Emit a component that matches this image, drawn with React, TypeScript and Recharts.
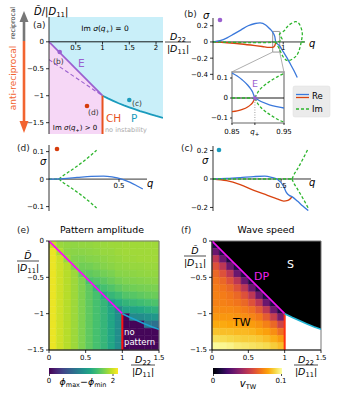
import React from 'react'
import { ComposedChart, XAxis, YAxis, Line, Area, Scatter, ReferenceLine, ReferenceArea } from 'recharts'

const FONT = "'DejaVu Sans', sans-serif"
const BLUE = '#3a78db'
const RED = '#d9430f'
const GREEN = '#2db52d'
const PURPLE = '#9a60cf'
const TEAL = '#1a9bbd'
const CH = '#e8521f'

// ---------- (a) phase diagram ----------
const aTop = 0.46
const aBottom = -1.71
const eLine = [{ x: 0, y: 0 }, { x: 1, y: -1 }]
const eDashed = [{ x: 0, y: -0.33 }, { x: 1, y: -1 }]
const pLine = [
  { x: 1, y: -1 }, { x: 1.1, y: -1.05 }, { x: 1.2, y: -1.095 }, { x: 1.3, y: -1.14 },
  { x: 1.4, y: -1.18 }, { x: 1.5, y: -1.215 }, { x: 1.6, y: -1.25 }, { x: 1.7, y: -1.285 },
  { x: 1.8, y: -1.315 }, { x: 1.9, y: -1.345 }, { x: 2.0, y: -1.375 }, { x: 2.13, y: -1.41 },
]
const paramPts = [
  { x: 0.2, y: -0.19, color: PURPLE },
  { x: 0.71, y: -1.19, color: '#d63c0c' },
  { x: 1.5, y: -1.08, color: TEAL },
]

// ---------- (b) dispersion at point (b) ----------
const reB1 = [
  { x: 0, y: 0 }, { x: 0.1, y: 0.015 }, { x: 0.2, y: 0.05 }, { x: 0.3, y: 0.1 }, { x: 0.4, y: 0.15 },
  { x: 0.5, y: 0.2 }, { x: 0.6, y: 0.228 }, { x: 0.67, y: 0.235 }, { x: 0.75, y: 0.21 }, { x: 0.8, y: 0.17 },
  { x: 0.85, y: 0.12 }, { x: 0.88, y: 0.065 }, { x: 0.894, y: 0 }, { x: 0.95, y: -0.05 }, { x: 1.0, y: -0.12 },
  { x: 1.05, y: -0.19 }, { x: 1.1, y: -0.27 }, { x: 1.15, y: -0.35 }, { x: 1.2, y: -0.44 },
]
const reB2 = [
  { x: 0, y: 0 }, { x: 0.2, y: -0.01 }, { x: 0.4, y: -0.025 }, { x: 0.6, y: -0.045 }, { x: 0.7, y: -0.056 },
  { x: 0.8, y: -0.068 }, { x: 0.85, y: -0.066 }, { x: 0.88, y: -0.045 }, { x: 0.894, y: 0 },
]
const imB = [
  { x: 0, y: 0 }, { x: 0.894, y: 0 }, { x: 0.95, y: 0.08 }, { x: 1.0, y: 0.13 }, { x: 1.05, y: 0.18 },
  { x: 1.1, y: 0.22 }, { x: 1.17, y: 0.25 }, { x: 1.23, y: 0.22 }, { x: 1.27, y: 0.12 }, { x: 1.26, y: 0.02 },
  { x: 1.22, y: -0.12 }, { x: 1.15, y: -0.2 }, { x: 1.06, y: -0.23 }, { x: 0.99, y: -0.17 }, { x: 0.94, y: -0.08 },
  { x: 0.894, y: 0 },
]
const imBTail = [{ x: 1.26, y: 0 }, { x: 1.31, y: 0 }]

// inset of (b)
const reIn1 = [
  { x: 0.85, y: 0.125 }, { x: 0.86, y: 0.11 }, { x: 0.87, y: 0.09 }, { x: 0.88, y: 0.065 },
  { x: 0.886, y: 0.045 }, { x: 0.89, y: 0.028 }, { x: 0.894, y: 0 }, { x: 0.95, y: -0.05 },
]
const reIn2 = [
  { x: 0.85, y: -0.068 }, { x: 0.86, y: -0.064 }, { x: 0.87, y: -0.057 }, { x: 0.88, y: -0.045 },
  { x: 0.886, y: -0.033 }, { x: 0.89, y: -0.022 }, { x: 0.894, y: 0 },
]
const imInZero = [{ x: 0.85, y: 0 }, { x: 0.894, y: 0 }]
const imInUp = [
  { x: 0.894, y: 0 }, { x: 0.9, y: 0.03 }, { x: 0.91, y: 0.058 }, { x: 0.92, y: 0.078 },
  { x: 0.93, y: 0.095 }, { x: 0.94, y: 0.11 }, { x: 0.95, y: 0.123 },
]
const imInLow = [
  { x: 0.894, y: 0 }, { x: 0.9, y: -0.03 }, { x: 0.91, y: -0.058 }, { x: 0.92, y: -0.078 },
  { x: 0.93, y: -0.095 }, { x: 0.94, y: -0.11 }, { x: 0.95, y: -0.12 },
]
const qPlus = 0.894

// ---------- (c) ----------
const reC1 = [
  { x: 0, y: 0 }, { x: 0.1, y: 0.004 }, { x: 0.2, y: 0.01 }, { x: 0.3, y: 0.017 }, { x: 0.38, y: 0.02 },
  { x: 0.43, y: 0.012 }, { x: 0.47, y: 0 }, { x: 0.52, y: -0.054 }, { x: 0.54, y: -0.096 },
  { x: 0.56, y: -0.115 }, { x: 0.58, y: -0.124 }, { x: 0.62, y: -0.155 }, { x: 0.66, y: -0.19 }, { x: 0.7, y: -0.222 },
]
const reC2 = [
  { x: 0, y: 0 }, { x: 0.1, y: -0.012 }, { x: 0.2, y: -0.04 }, { x: 0.3, y: -0.08 }, { x: 0.4, y: -0.115 },
  { x: 0.47, y: -0.14 }, { x: 0.52, y: -0.155 }, { x: 0.55, y: -0.15 }, { x: 0.57, y: -0.137 }, { x: 0.58, y: -0.124 },
]
const imCZero = [{ x: 0, y: 0 }, { x: 0.58, y: 0 }]
const imCUp = [{ x: 0.58, y: 0 }, { x: 0.6, y: 0.04 }, { x: 0.62, y: 0.07 }, { x: 0.66, y: 0.14 }, { x: 0.7, y: 0.215 }]
const imCLow = [{ x: 0.58, y: 0 }, { x: 0.6, y: -0.04 }, { x: 0.62, y: -0.07 }, { x: 0.66, y: -0.135 }, { x: 0.7, y: -0.205 }]

// ---------- (d) ----------
const reD = [
  { x: 0, y: 0 }, { x: 0.1, y: 0.002 }, { x: 0.2, y: 0.006 }, { x: 0.3, y: 0.01 }, { x: 0.39, y: 0.011 },
  { x: 0.45, y: 0.008 }, { x: 0.52, y: 0 }, { x: 0.58, y: -0.012 }, { x: 0.63, y: -0.025 }, { x: 0.67, y: -0.036 },
]
const imDZero = [{ x: 0, y: 0 }, { x: 0.07, y: 0 }]
const imDUp = [
  { x: 0.07, y: 0 }, { x: 0.1, y: 0.012 }, { x: 0.15, y: 0.029 }, { x: 0.2, y: 0.047 },
  { x: 0.25, y: 0.066 }, { x: 0.3, y: 0.087 }, { x: 0.34, y: 0.105 },
]
const imDLow = [
  { x: 0.07, y: 0 }, { x: 0.1, y: -0.012 }, { x: 0.15, y: -0.029 }, { x: 0.2, y: -0.047 },
  { x: 0.25, y: -0.066 }, { x: 0.3, y: -0.087 }, { x: 0.34, y: -0.105 },
]

// ---------- (e), (f) heatmaps ----------
const gridX = [0.05, 0.15, 0.25, 0.35, 0.45, 0.55, 0.65, 0.75, 0.85, 0.95, 1.05, 1.15, 1.25, 1.35, 1.45]
const gridY = [-0.05, -0.15, -0.25, -0.35, -0.45, -0.55, -0.65, -0.75, -0.85, -0.95, -1.05, -1.15, -1.25, -1.35, -1.45]
const ampRows = [
  [1.98, 1.83, 1.81, 1.8, 1.81, 1.81, 1.82, 1.83, 1.84, 1.84, 1.85, 1.85, 1.85, 1.85, 1.85],
  [2.1, 1.9, 1.79, 1.78, 1.78, 1.79, 1.8, 1.82, 1.82, 1.84, 1.85, 1.85, 1.85, 1.85, 1.85],
  [2.1, 2.0, 1.82, 1.75, 1.74, 1.76, 1.77, 1.79, 1.81, 1.82, 1.84, 1.84, 1.85, 1.85, 1.85],
  [2.1, 2.0, 1.92, 1.75, 1.69, 1.7, 1.73, 1.76, 1.78, 1.8, 1.81, 1.82, 1.82, 1.83, 1.83],
  [2.1, 2.0, 1.92, 1.84, 1.65, 1.63, 1.66, 1.7, 1.73, 1.77, 1.78, 1.79, 1.8, 1.81, 1.81],
  [2.1, 2.0, 1.92, 1.84, 1.74, 1.54, 1.57, 1.61, 1.66, 1.71, 1.74, 1.75, 1.76, 1.77, 1.78],
  [2.1, 2.0, 1.92, 1.84, 1.74, 1.62, 1.44, 1.51, 1.56, 1.62, 1.67, 1.69, 1.71, 1.72, 1.73],
  [2.1, 2.0, 1.92, 1.84, 1.74, 1.62, 1.52, 1.35, 1.43, 1.49, 1.57, 1.59, 1.62, 1.65, 1.67],
  [2.1, 2.0, 1.92, 1.84, 1.74, 1.62, 1.52, 1.42, 1.22, 1.33, 1.41, 1.45, 1.48, 1.52, 1.55],
  [2.1, 2.0, 1.92, 1.84, 1.74, 1.62, 1.52, 1.42, 1.28, 1.0, 1.23, 1.25, 1.29, 1.34, 1.38],
  [2.1, 2.0, 1.92, 1.84, 1.74, 1.62, 1.52, 1.42, 1.28, 1.05, 0.03, 1.02, 1.04, 1.09, 1.14],
  [2.1, 2.0, 1.92, 1.84, 1.74, 1.62, 1.52, 1.42, 1.28, 1.05, 0.03, 0.03, 0.03, 0.88, 0.8],
  [2.1, 2.0, 1.92, 1.84, 1.74, 1.62, 1.52, 1.42, 1.28, 1.05, 0.03, 0.03, 0.03, 0.03, 0.03],
  [2.1, 2.0, 1.92, 1.84, 1.74, 1.62, 1.52, 1.42, 1.28, 1.05, 0.03, 0.03, 0.03, 0.03, 0.03],
  [2.1, 2.0, 1.92, 1.84, 1.74, 1.62, 1.52, 1.42, 1.28, 1.05, 0.03, 0.03, 0.03, 0.03, 0.03],
]
const _ = null
const speedRows = [
  [0.012, _, _, _, _, _, _, _, _, _],
  [0.03, 0.012, _, _, _, _, _, _, _, _],
  [0.05, 0.03, 0.012, _, _, _, _, _, _, _],
  [0.06, 0.05, 0.03, 0.012, _, _, _, _, _, _],
  [0.066, 0.06, 0.05, 0.03, 0.012, _, _, _, _, _],
  [0.069, 0.066, 0.06, 0.05, 0.03, 0.012, _, _, _, _],
  [0.071, 0.069, 0.066, 0.06, 0.05, 0.03, 0.012, _, _, _],
  [0.072, 0.071, 0.069, 0.066, 0.06, 0.05, 0.03, 0.012, _, _],
  [0.072, 0.072, 0.071, 0.069, 0.066, 0.06, 0.05, 0.03, 0.012, _],
  [0.074, 0.074, 0.074, 0.073, 0.071, 0.068, 0.062, 0.051, 0.031, 0.013],
  [0.077, 0.077, 0.077, 0.076, 0.075, 0.073, 0.07, 0.063, 0.053, 0.033],
  [0.081, 0.081, 0.08, 0.08, 0.079, 0.078, 0.076, 0.072, 0.066, 0.055],
  [0.086, 0.085, 0.085, 0.084, 0.084, 0.083, 0.081, 0.079, 0.075, 0.068],
  [0.092, 0.091, 0.09, 0.089, 0.088, 0.088, 0.087, 0.085, 0.082, 0.078],
  [0.099, 0.098, 0.097, 0.095, 0.094, 0.093, 0.092, 0.091, 0.088, 0.085],
]
const ampMax = 2.16
const speedMax = 0.1

const VIRIDIS = ['#440154', '#482475', '#414487', '#355f8d', '#2a788e', '#21918c', '#22a884', '#44bf70', '#7ad151', '#bddf26', '#fde725']
const INFERNO = ['#000004', '#160b39', '#420a68', '#6a176e', '#932667', '#bc3754', '#dd513a', '#f37819', '#fca50a', '#f6d746', '#fcffa4']

function cmap(stops: string[], t: number) {
  const u = Math.max(0, Math.min(1, t)) * (stops.length - 1)
  const i = Math.min(stops.length - 2, Math.floor(u))
  const f = u - i
  const a = parseInt(stops[i].slice(1), 16)
  const b = parseInt(stops[i + 1].slice(1), 16)
  const ch = (s: number) => Math.round(((a >> s) & 255) * (1 - f) + ((b >> s) & 255) * f)
  return `rgb(${ch(16)},${ch(8)},${ch(0)})`
}

const fmt = (v: number) => String(v).replace('-', '\u2212')
const tickStyle = { fontSize: 7, fill: '#000', fontFamily: FONT }
const axLine = { stroke: '#000', strokeWidth: 0.8 }

const line = (data: any[], color: string, key: string, extra: any = {}) => (
  <Line key={key} data={data} dataKey="y" stroke={color} strokeWidth={1.3} dot={false}
    isAnimationActive={false} type="linear" {...extra} />
)

const zeroTicks = (ticks: number[], len: number, labels: string[]) =>
  ticks.map((t, i) => (
    <ReferenceLine key={'zt' + t} segment={[{ x: t, y: 0 }, { x: t, y: -len }]} stroke="#000" strokeWidth={0.8}
      label={{ value: labels[i], position: 'bottom', offset: 1, fontSize: 7, fill: '#000', fontFamily: FONT }} />
  ))

const heatCells = (rows: (number | null)[][], stops: string[], vmax: number, prefix: string) =>
  rows.flatMap((row, j) =>
    row.map((v, i) => {
      if (v == null) return null
      const c = cmap(stops, v / vmax)
      return (
        <ReferenceArea key={prefix + i + '-' + j} x1={gridX[i] - 0.05} x2={gridX[i] + 0.05}
          y1={gridY[j] - 0.05} y2={gridY[j] + 0.05} fill={c} fillOpacity={1} stroke={c}
          strokeWidth={0.5} ifOverflow="visible" />
      )
    })
  )

const dotShape = (p: any) => <circle cx={p.cx} cy={p.cy} r={2.3} fill={p.payload.color} />
const starShape = (p: any) => {
  const pts = []
  for (let k = 0; k < 10; k++) {
    const r = k % 2 ? 1.4 : 3.4
    const a = -Math.PI / 2 + (k * Math.PI) / 5
    pts.push(`${p.cx + r * Math.cos(a)},${p.cy + r * Math.sin(a)}`)
  }
  return <polygon points={pts.join(' ')} fill={PURPLE} />
}

function Pos({ left, top, children }: any) {
  return <div style={{ position: 'absolute', left, top }}>{children}</div>
}

function PanelA() {
  const cyan = eLine.concat(pLine.slice(1)).map((p) => ({ x: p.x, y: [p.y, aTop] }))
  const pink = eLine.map((p) => ({ x: p.x, y: [aBottom, p.y] }))
  return (
    <ComposedChart width={175} height={145} margin={{ top: 17, right: 12, bottom: 11, left: 0 }}>
      <XAxis dataKey="x" type="number" domain={[0, 2.13]} hide allowDataOverflow />
      <YAxis type="number" domain={[aBottom, aTop]} ticks={[0, -0.5, -1, -1.5]} width={49} tick={tickStyle}
        tickFormatter={fmt} tickSize={3} axisLine={axLine} tickLine={axLine} interval={0} allowDataOverflow />
      <Area data={cyan} dataKey="y" type="linear" stroke="none" fill="#c9eff9" fillOpacity={1} isAnimationActive={false} />
      <Area data={pink} dataKey="y" type="linear" stroke="none" fill="#f6d7f6" fillOpacity={1} isAnimationActive={false} />
      <ReferenceLine y={0} stroke="#000" strokeWidth={0.9} />
      {zeroTicks([0.5, 1, 1.5, 2], 0.05, ['0.5', '1', '1.5', '2'])}
      {line(eDashed, PURPLE, 'ed', { strokeDasharray: '4 2.5', strokeWidth: 1.1 })}
      {line(eLine, PURPLE, 'e', { strokeWidth: 1.8 })}
      {line(pLine, TEAL, 'p', { strokeWidth: 1.8 })}
      {line([{ x: 1, y: -1 }, { x: 1, y: aBottom }], CH, 'ch', { strokeWidth: 2 })}
      <Scatter data={paramPts} dataKey="y" shape={dotShape} isAnimationActive={false} />
    </ComposedChart>
  )
}

function PanelB() {
  return (
    <ComposedChart width={150} height={80} margin={{ top: 8, right: 10, bottom: 10, left: 0 }}>
      <XAxis dataKey="x" type="number" domain={[0, 1.31]} hide allowDataOverflow />
      <YAxis type="number" domain={[-0.47, 0.296]} ticks={[0.2, 0, -0.2, -0.4]} width={48} tick={tickStyle}
        tickFormatter={fmt} tickSize={3} axisLine={axLine} tickLine={axLine} interval={0} allowDataOverflow />
      <ReferenceLine y={0} stroke="#000" strokeWidth={0.8} />
      {zeroTicks([1], 0.03, ['1'])}
      {line(reB2, RED, 'r2', { type: 'monotone' })}
      {line(reB1, BLUE, 'r1', { type: 'monotone' })}
      {line(imB, GREEN, 'im', { strokeDasharray: '3 2', type: 'natural' })}
      {line(imBTail, GREEN, 'imt', { strokeDasharray: '3 2' })}
      <ReferenceArea x1={0.85} x2={0.95} y1={-0.125} y2={0.13} fill="none" stroke="#999" strokeWidth={1} ifOverflow="visible" />
      <ReferenceLine segment={[{ x: 0.85, y: -0.125 }, { x: 0.27, y: -0.37 }]} stroke="#999" strokeWidth={0.8} ifOverflow="visible" />
      <ReferenceLine segment={[{ x: 0.95, y: -0.125 }, { x: 1.01, y: -0.37 }]} stroke="#999" strokeWidth={0.8} ifOverflow="visible" />
    </ComposedChart>
  )
}

function InsetB() {
  const qTick = (p: any) => {
    const v = p.payload.value
    const lbl = v === qPlus ? null : String(v)
    return (
      <text x={p.x} y={p.y + 7} textAnchor="middle" fontSize={7} fontFamily={FONT}>
        {lbl ?? (<><tspan fontStyle="italic">q</tspan><tspan fontSize={5.5} dy={2}>+</tspan></>)}
      </text>
    )
  }
  return (
    <ComposedChart width={94} height={72} margin={{ top: 2, right: 10, bottom: 0, left: 0 }}>
      <XAxis dataKey="x" type="number" domain={[0.85, 0.95]} ticks={[0.85, qPlus, 0.95]} height={19} tick={qTick}
        tickSize={2} axisLine={false} tickLine={axLine} interval={0} allowDataOverflow />
      <YAxis type="number" domain={[-0.125, 0.13]} ticks={[0.1, 0, -0.1]} width={32} tick={tickStyle}
        tickFormatter={fmt} tickSize={2} axisLine={false} tickLine={axLine} interval={0} allowDataOverflow />
      <ReferenceLine y={0} stroke="#000" strokeWidth={0.9} />
      <ReferenceLine segment={[{ x: qPlus, y: -0.125 }, { x: qPlus, y: 0 }]} stroke="#777" strokeWidth={0.7} strokeDasharray="1 1.5" />
      {line(reIn2, RED, 'r2', { type: 'monotone' })}
      {line(reIn1, BLUE, 'r1', { type: 'monotone' })}
      {line(imInZero, GREEN, 'iz', { strokeDasharray: '3 2' })}
      {line(imInUp, GREEN, 'iu', { strokeDasharray: '3 2', type: 'monotone' })}
      {line(imInLow, GREEN, 'il', { strokeDasharray: '3 2', type: 'monotone' })}
      <Scatter data={[{ x: qPlus, y: 0 }]} dataKey="y" shape={starShape} isAnimationActive={false} />
      <ReferenceArea x1={0.85} x2={0.95} y1={-0.125} y2={0.13} fill="none" stroke="#999" strokeWidth={1.6} ifOverflow="visible" />
    </ComposedChart>
  )
}

function PanelC() {
  return (
    <ComposedChart width={150} height={75} margin={{ top: 6, right: 4, bottom: 4, left: 0 }}>
      <XAxis dataKey="x" type="number" domain={[0, 0.72]} hide allowDataOverflow />
      <YAxis type="number" domain={[-0.225, 0.232]} ticks={[0.2, 0, -0.2]} width={48} tick={tickStyle}
        tickFormatter={fmt} tickSize={3} axisLine={axLine} tickLine={axLine} interval={0} allowDataOverflow />
      <ReferenceLine y={0} stroke="#000" strokeWidth={0.8} />
      {zeroTicks([0.5], 0.02, ['0.5'])}
      {line(reC2, RED, 'r2', { type: 'monotone' })}
      {line(reC1, BLUE, 'r1', { type: 'monotone' })}
      {line(imCZero, GREEN, 'iz', { strokeDasharray: '3 2' })}
      {line(imCUp, GREEN, 'iu', { strokeDasharray: '3 2', type: 'monotone' })}
      {line(imCLow, GREEN, 'il', { strokeDasharray: '3 2', type: 'monotone' })}
    </ComposedChart>
  )
}

function PanelD() {
  return (
    <ComposedChart width={160} height={75} margin={{ top: 5, right: 13, bottom: 4, left: 0 }}>
      <XAxis dataKey="x" type="number" domain={[0, 0.7]} hide allowDataOverflow />
      <YAxis type="number" domain={[-0.116, 0.124]} ticks={[0.1, 0, -0.1]} width={49} tick={tickStyle}
        tickFormatter={fmt} tickSize={3} axisLine={axLine} tickLine={axLine} interval={0} allowDataOverflow />
      <ReferenceLine y={0} stroke="#000" strokeWidth={0.8} />
      {zeroTicks([0.5], 0.01, ['0.5'])}
      {line(imDZero, GREEN, 'iz', { strokeDasharray: '3 2' })}
      {line(imDUp, GREEN, 'iu', { strokeDasharray: '3 2', type: 'monotone' })}
      {line(imDLow, GREEN, 'il', { strokeDasharray: '3 2', type: 'monotone' })}
      {line(reD, BLUE, 'r1', { type: 'monotone' })}
    </ComposedChart>
  )
}

function HeatPanel({ kind }: { kind: 'e' | 'f' }) {
  const pShort = pLine.filter((p) => p.x <= 1.5)
  const black = eLine.concat(pShort.slice(1)).map((p) => ({ x: p.x, y: [p.y, 0] }))
  const isE = kind === 'e'
  return (
    <ComposedChart width={isE ? 175 : 165} height={129} margin={{ top: 5, right: isE ? 16 : 9, bottom: 0, left: 0 }}>
      <XAxis dataKey="x" type="number" domain={[0, 1.5]} ticks={[0, 0.5, 1, 1.5]} height={15} tick={tickStyle}
        tickSize={3} axisLine={axLine} tickLine={axLine} interval={0} allowDataOverflow />
      <YAxis type="number" domain={[-1.5, 0]} ticks={[0, -0.5, -1, -1.5]} width={isE ? 49 : 47} tick={tickStyle}
        tickFormatter={fmt} tickSize={3} axisLine={axLine} tickLine={axLine} interval={0} allowDataOverflow />
      {isE ? heatCells(ampRows, VIRIDIS, ampMax, 'a') : heatCells(speedRows, INFERNO, speedMax, 's')}
      {!isE && <Area data={black} dataKey="y" type="linear" stroke="none" fill="#000" fillOpacity={1} isAnimationActive={false} />}
      {line(eLine, isE ? '#ff00ff' : '#f010f0', 'e', { strokeWidth: 1.6 })}
      {line([{ x: 1, y: -1 }, { x: 1, y: -1.5 }], isE ? '#ff1010' : '#ff3010', 'ch', { strokeWidth: 2 })}
      {line(pShort, isE ? '#1ea3cf' : '#22b4d4', 'p', { strokeWidth: 1.6 })}
      <ReferenceArea x1={0} x2={1.5} y1={-1.5} y2={0} fill="none" stroke="#777" strokeWidth={1} ifOverflow="visible" />
    </ComposedChart>
  )
}

function DFrac({ cx, y, w, tilde = false, fs = 9.5 }: any) {
  return (
    <g>
      <text x={cx} y={y - 2.5} textAnchor="middle" fontSize={fs}>
        {tilde ? <tspan fontStyle="italic">D̃</tspan> : (<><tspan fontStyle="italic">D</tspan><tspan fontSize={fs * 0.7} dy={2}>22</tspan></>)}
      </text>
      <line x1={cx - w / 2} x2={cx + w / 2} y1={y} y2={y} stroke="#000" strokeWidth={0.7} />
      <text x={cx} y={y + fs} textAnchor="middle" fontSize={fs}>
        |<tspan fontStyle="italic">D</tspan><tspan fontSize={fs * 0.7} dy={2}>11</tspan><tspan dy={-2}>|</tspan>
      </text>
    </g>
  )
}

function SigmaQ({ x, y, fs = 7.5, rest }: any) {
  return (
    <text x={x} y={y} fontSize={fs} textAnchor="middle">
      Im <tspan fontStyle="italic">σ</tspan>(<tspan fontStyle="italic">q</tspan>
      <tspan fontSize={fs * 0.7} dy={1.5}>+</tspan><tspan dy={-1.5}>{rest}</tspan>
    </text>
  )
}

function Overlay() {
  return (
    <svg width={340} height={395} style={{ position: 'absolute', left: 0, top: 0, pointerEvents: 'none' }} fontFamily={FONT}>
      {/* (a) */}
      <line x1={24} x2={24} y1={41} y2={20} stroke="#777" strokeWidth={2.6} />
      <polygon points="24,11 19.5,22 28.5,22" fill="#777" />
      <line x1={24} x2={24} y1={41} y2={122} stroke="#f26430" strokeWidth={2.6} />
      <polygon points="24,133 19.5,121 28.5,121" fill="#f26430" />
      <text transform="rotate(-90 13 23)" x={13} y={23} textAnchor="middle" dominantBaseline="central" fontSize={6.5} fill="#333">reciprocal</text>
      <text transform="rotate(-90 13 78)" x={13} y={78} textAnchor="middle" dominantBaseline="central" fontSize={9} fill="#f26430">anti-reciprocal</text>
      <text x={34} y={15} fontSize={10}>
        <tspan fontStyle="italic">D̃</tspan>/|<tspan fontStyle="italic">D</tspan><tspan fontSize={7} dy={2}>11</tspan><tspan dy={-2}>|</tspan>
      </text>
      <text x={33} y={28} fontSize={9} fill="#222">(a)</text>
      <SigmaQ x={105} y={31} rest=") = 0" />
      <text x={53} y={64} fontSize={7.5} fill="#333">(b)</text>
      <text x={78} y={67} fontSize={10.5} fill={PURPLE}>E</text>
      <text x={88} y={115} fontSize={7.5} fill="#333">(d)</text>
      <text x={132} y={106} fontSize={7.5} fill="#333">(c)</text>
      <text x={106} y={122} fontSize={10.5} fill={CH}>CH</text>
      <text x={131} y={122} fontSize={10.5} fill={TEAL}>P</text>
      <SigmaQ x={75} y={130} fs={7} rest=") > 0" />
      <text x={105} y={132} fontSize={6.5} fill="#aaa">no instability</text>
      <DFrac cx={178} y={42} w={26} />

      {/* (b) */}
      <text x={184} y={17} fontSize={9} fill="#222">(b)</text>
      <text x={203} y={19} fontSize={10} fontStyle="italic">σ</text>
      <circle cx={220} cy={20} r={2.3} fill={PURPLE} />
      <text x={309} y={47} fontSize={10} fontStyle="italic">q</text>
      <text x={252} y={87} fontSize={9.5} fill={PURPLE}>E</text>
      <rect x={293} y={86} width={37} height={31} rx={2} fill="#ebebeb" stroke="#ddd" strokeWidth={0.5} />
      <line x1={296} x2={309} y1={94.5} y2={94.5} stroke={BLUE} strokeWidth={1.3} />
      <line x1={296} x2={309} y1={97.5} y2={97.5} stroke={RED} strokeWidth={1.3} />
      <line x1={296} x2={309} y1={109} y2={109} stroke={GREEN} strokeWidth={1.3} strokeDasharray="3 2" />
      <text x={312} y={99} fontSize={8.5}>Re</text>
      <text x={312} y={112} fontSize={8.5}>Im</text>

      {/* (c) */}
      <text x={181} y={151} fontSize={9} fill="#222">(c)</text>
      <text x={202} y={164} fontSize={10} fontStyle="italic">σ</text>
      <circle cx={219} cy={150} r={2.3} fill={TEAL} />
      <text x={309} y={186} fontSize={10} fontStyle="italic">q</text>

      {/* (d) */}
      <text x={17} y={151} fontSize={9} fill="#222">(d)</text>
      <text x={40} y={165} fontSize={10} fontStyle="italic">σ</text>
      <circle cx={57} cy={149} r={2.3} fill="#d63c0c" />
      <text x={147} y={187} fontSize={10} fontStyle="italic">q</text>

      {/* (e) */}
      <text x={17} y={233} fontSize={9} fill="#222">(e)</text>
      <text x={102} y={233} fontSize={9.4} textAnchor="middle">Pattern amplitude</text>
      <DFrac cx={28} y={261} w={22} tilde />
      <DFrac cx={143} y={365} w={24} />
      <text x={124} y={335} fontSize={8.5} fill="#fff">no</text>
      <text x={124} y={345} fontSize={8.5} fill="#fff">pattern</text>
      <line x1={49.5} x2={49.5} y1={374} y2={376} stroke="#000" strokeWidth={0.7} />
      <line x1={113} x2={113} y1={374} y2={376} stroke="#000" strokeWidth={0.7} />
      <text x={49} y={383} fontSize={7} textAnchor="middle">0</text>
      <text x={113} y={383} fontSize={7} textAnchor="middle">2</text>
      <text x={83} y={385} fontSize={9.5} textAnchor="middle">
        <tspan fontStyle="italic">ϕ</tspan><tspan fontSize={6.5} dy={2}>max</tspan><tspan dy={-2}>−</tspan>
        <tspan fontStyle="italic">ϕ</tspan><tspan fontSize={6.5} dy={2}>min</tspan>
      </text>

      {/* (f) */}
      <text x={181} y={233} fontSize={9} fill="#222">(f)</text>
      <text x={266} y={233} fontSize={9.4} textAnchor="middle">Wave speed</text>
      <DFrac cx={195} y={256} w={22} tilde />
      <DFrac cx={306} y={365} w={24} />
      <text x={287} y={268} fontSize={11} fill="#fff">S</text>
      <text x={254} y={280} fontSize={11} fill="#ee22ee">DP</text>
      <text x={233} y={326} fontSize={11} fill="#000">TW</text>
      <line x1={213.5} x2={213.5} y1={374} y2={376} stroke="#000" strokeWidth={0.7} />
      <line x1={281.5} x2={281.5} y1={374} y2={376} stroke="#000" strokeWidth={0.7} />
      <text x={213} y={383} fontSize={7} textAnchor="middle">0</text>
      <text x={281} y={383} fontSize={7} textAnchor="middle">0.1</text>
      <text x={248} y={387} fontSize={10} textAnchor="middle">
        <tspan fontStyle="italic">v</tspan><tspan fontSize={6.5} dy={2}>TW</tspan>
      </text>
    </svg>
  )
}

function ColorBar({ left, stops }: { left: number; stops: string[] }) {
  return (
    <div style={{ position: 'absolute', left, top: 368, width: 69, height: 6,
      background: `linear-gradient(to right, ${stops.join(',')})` }} />
  )
}

export default function App() {
  return (
    <div style={{ position: 'absolute', left: 0, top: 0, width: 340, height: 395, background: '#fff', fontFamily: FONT }}>
      <Pos left={0} top={0}><PanelA /></Pos>
      <Pos left={165} top={10}><PanelB /></Pos>
      <Pos left={200} top={70}><InsetB /></Pos>
      <Pos left={165} top={140}><PanelC /></Pos>
      <Pos left={0} top={140}><PanelD /></Pos>
      <Pos left={0} top={236}><HeatPanel kind="e" /></Pos>
      <Pos left={165} top={236}><HeatPanel kind="f" /></Pos>
      <ColorBar left={49} stops={VIRIDIS} />
      <ColorBar left={213} stops={INFERNO} />
      <Overlay />
    </div>
  )
}
